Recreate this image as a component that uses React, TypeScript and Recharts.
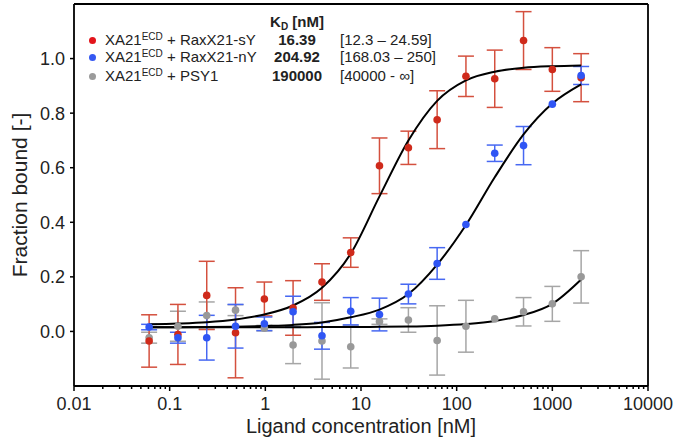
import React from "react";
import {
  ComposedChart,
  Line,
  Scatter,
  ErrorBar,
  XAxis,
  YAxis,
  ReferenceLine,
  Label,
} from "recharts";

// 2-fold dilution series, nM
const concentrations = [
  0.061, 0.122, 0.244, 0.488, 0.977, 1.95, 3.91, 7.81, 15.6, 31.3, 62.5, 125,
  250, 500, 1000, 2000,
];

const redMean = [
  -0.035, -0.011, 0.132, -0.005, 0.119, 0.086, 0.181, 0.289, 0.607, 0.673,
  0.776, 0.935, 0.926, 1.066, 0.96, 0.93,
];
const redErr = [
  0.096, 0.11, 0.125, 0.165, 0.062, 0.1, 0.067, 0.054, 0.102, 0.061, 0.106,
  0.074, 0.105, 0.106, 0.08, 0.088,
];
const blueMean = [
  0.016, -0.023, -0.023, 0.019, 0.028, 0.072, -0.016, 0.074, 0.062, 0.137,
  0.249, 0.392, 0.653, 0.681, 0.833, 0.938,
];
const blueErr = [
  0.01, 0.02, 0.082, 0.08, 0.025, 0.057, 0.049, 0.05, 0.06, 0.036, 0.058,
  0, 0.03, 0.07, 0, 0.033,
];
const grayMean = [
  -0.023, 0.019, 0.058, 0.078, 0.012, -0.05, -0.035, -0.056, 0.036, 0.042,
  -0.033, 0.019, 0.046, 0.072, 0.101, 0.2,
];
const grayErr = [
  0.02, 0.055, 0.05, 0.02, 0.01, 0.068, 0.14, 0.078, 0.01, 0.045, 0.127,
  0.095, 0, 0.052, 0.064, 0.096,
];

// fitted curves at the same concentrations
const redFit = [
  0.026, 0.029, 0.034, 0.044, 0.062, 0.095, 0.16, 0.285, 0.495, 0.7, 0.845,
  0.92, 0.952, 0.966, 0.972, 0.975,
];
const blueFit = [
  0.015, 0.015, 0.016, 0.017, 0.02, 0.024, 0.033, 0.052, 0.08, 0.137, 0.245,
  0.39, 0.565, 0.722, 0.835, 0.905,
];
const grayFit = [
  0.015, 0.015, 0.015, 0.015, 0.015, 0.015, 0.016, 0.016, 0.017, 0.018, 0.021,
  0.027, 0.038, 0.06, 0.101, 0.19,
];

const majorTicks = [0.01, 0.1, 1, 10, 100, 1000, 10000];
const minorSteps = [2, 3, 4, 5, 6, 7, 8, 9];
const yTicks = [0, 0.2, 0.4, 0.6, 0.8, 1.0];

const legendNames = ["RaxX21-sY", "RaxX21-nY", "PSY1"];
const legendKd = ["16.39", "204.92", "190000"];
const legendRange = ["[12.3 \u2013 24.59]", "[168.03 \u2013 250]", "[40000 - \u221e]"];
const legendColors = ["#e3141b", "#3558f2", "#9b9b9b"];

const rows = concentrations.map((c, i) => ({
  conc: c,
  red: redMean[i],
  redErr: redErr[i],
  blue: blueMean[i],
  blueErr: blueErr[i],
  gray: grayMean[i],
  grayErr: grayErr[i],
  redFit: redFit[i],
  blueFit: blueFit[i],
  grayFit: grayFit[i],
}));

const allXTicks = [
  ...majorTicks,
  ...majorTicks.slice(0, -1).flatMap((d) => minorSteps.map((s) => d * s)),
].sort((a, b) => a - b);

const FONT = "'Liberation Sans', Arial, Helvetica, sans-serif";
const TICK_SIZE = 5;
const TICK_MARGIN = 4;

function XTick(props: any) {
  const { x, y, payload } = props;
  const v = payload.value;
  const isMajor = majorTicks.some((m) => Math.abs(m - v) / m < 1e-6);
  const axisY = y - TICK_SIZE - TICK_MARGIN;
  return (
    <g>
      <line
        x1={x}
        x2={x}
        y1={axisY}
        y2={axisY + (isMajor ? 5 : 3)}
        stroke="#000"
        strokeWidth={1.5}
      />
      {isMajor && (
        <text
          x={x}
          y={axisY + 24}
          textAnchor="middle"
          fontSize={18}
          fontFamily={FONT}
          fill="#222"
        >
          {String(v)}
        </text>
      )}
    </g>
  );
}

const dot = (color: string) => (props: any) =>
  <circle cx={props.cx} cy={props.cy} r={3.8} fill={color} />;

function LegendBox() {
  const base: React.CSSProperties = {
    position: "absolute",
    fontFamily: FONT,
    fontSize: 15,
    lineHeight: "18px",
    color: "#222",
    whiteSpace: "nowrap",
  };
  const rowTops = [31, 48, 67];
  return (
    <>
      <div
        style={{ ...base, top: 13, left: 257, width: 80, textAlign: "center", fontWeight: 700 }}
      >
        K<sub style={{ fontSize: 10, verticalAlign: "-3px" }}>D</sub> [nM]
      </div>
      {legendNames.map((name, i) => (
        <React.Fragment key={name}>
          <div
            style={{
              position: "absolute",
              top: rowTops[i] + 5.5,
              left: 88.5,
              width: 7,
              height: 7,
              borderRadius: "50%",
              background: legendColors[i],
            }}
          />
          <div style={{ ...base, top: rowTops[i], left: 105 }}>
            XA21<sup style={{ fontSize: 10, verticalAlign: "5px", lineHeight: 0 }}>ECD</sup> + {name}
          </div>
          <div
            style={{ ...base, top: rowTops[i], left: 257, width: 80, textAlign: "center", fontWeight: 700 }}
          >
            {legendKd[i]}
          </div>
          <div style={{ ...base, top: rowTops[i], left: 340 }}>{legendRange[i]}</div>
        </React.Fragment>
      ))}
    </>
  );
}

export default function App() {
  return (
    <div
      style={{
        position: "absolute",
        left: 0,
        top: 0,
        width: 677,
        height: 443,
        background: "#fff",
      }}
    >
      <ComposedChart
        width={677}
        height={443}
        data={rows}
        margin={{ top: 4, right: 29, bottom: 0, left: 0 }}
      >
        <XAxis
          dataKey="conc"
          type="number"
          scale="log"
          domain={[0.01, 10000]}
          ticks={allXTicks}
          interval={0}
          allowDataOverflow
          height={57}
          tickLine={false}
          tickSize={TICK_SIZE}
          tickMargin={TICK_MARGIN}
          tick={<XTick />}
          axisLine={{ stroke: "#000", strokeWidth: 1.8 }}
        >
          <Label
            value="Ligand concentration [nM]"
            position="insideBottom"
            offset={10}
            style={{ fontSize: 20, fontFamily: FONT, fill: "#222" }}
          />
        </XAxis>
        <YAxis
          type="number"
          domain={[-0.2, 1.2]}
          ticks={yTicks}
          interval={0}
          width={74}
          tickSize={4}
          tickMargin={5}
          tickFormatter={(v: number) => v.toFixed(1)}
          tick={{ fill: "#222", fontSize: 18, fontFamily: FONT }}
          tickLine={{ stroke: "#000", strokeWidth: 1.5 }}
          axisLine={{ stroke: "#000", strokeWidth: 1.8 }}
        >
          <Label
            value="Fraction bound [-]"
            angle={-90}
            position="insideLeft"
            offset={20}
            style={{ textAnchor: "middle", fontSize: 21, fontFamily: FONT, fill: "#222" }}
          />
        </YAxis>
        <ReferenceLine y={1.2} stroke="#000" strokeWidth={1.8} />
        <ReferenceLine x={10000} stroke="#000" strokeWidth={1.8} />

        <Scatter dataKey="gray" isAnimationActive={false} shape={dot("#999999")}>
          <ErrorBar dataKey="grayErr" direction="y" width={8} stroke="#a6a6a6" strokeWidth={1.5} />
        </Scatter>
        <Scatter dataKey="red" isAnimationActive={false} shape={dot("#cf2a1b")}>
          <ErrorBar dataKey="redErr" direction="y" width={8} stroke="#d4503e" strokeWidth={1.5} />
        </Scatter>
        <Scatter dataKey="blue" isAnimationActive={false} shape={dot("#2f55f4")}>
          <ErrorBar dataKey="blueErr" direction="y" width={8} stroke="#4768f2" strokeWidth={1.5} />
        </Scatter>

        <Line dataKey="grayFit" type="monotone" stroke="#000" strokeWidth={2} dot={false} isAnimationActive={false} />
        <Line dataKey="blueFit" type="monotone" stroke="#000" strokeWidth={2} dot={false} isAnimationActive={false} />
        <Line dataKey="redFit" type="monotone" stroke="#000" strokeWidth={2} dot={false} isAnimationActive={false} />
      </ComposedChart>
      <LegendBox />
    </div>
  );
}
